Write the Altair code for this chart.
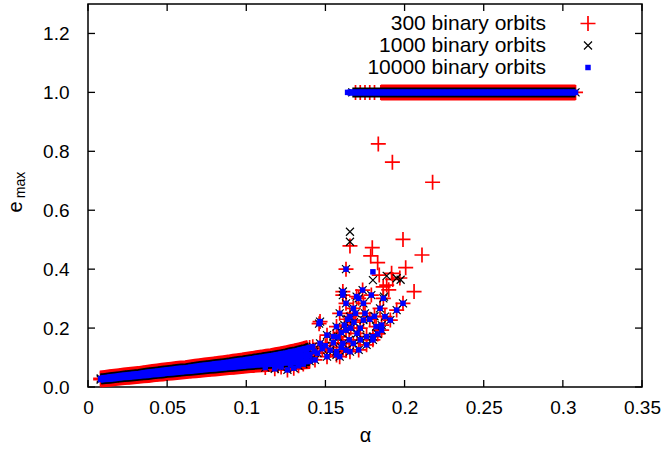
import altair as alt
import pandas as pd

# ---------------- data ----------------
x_ticks = [0, 0.05, 0.1, 0.15, 0.2, 0.25, 0.3, 0.35]
y_ticks = [0.0, 0.2, 0.4, 0.6, 0.8, 1.0, 1.2]

legend_labels = ["300 binary orbits", "1000 binary orbits", "10000 binary orbits"]

# dense low-alpha band (lower edge / upper edge / middle)
band_alpha = [0.008, 0.011, 0.014, 0.017, 0.020, 0.023, 0.026, 0.029, 0.032, 0.035,
              0.038, 0.041, 0.044, 0.047, 0.050, 0.053, 0.056, 0.059, 0.062, 0.065,
              0.068, 0.071, 0.074, 0.077, 0.080, 0.083, 0.086, 0.089, 0.092, 0.095,
              0.098, 0.101, 0.104, 0.107, 0.110, 0.113, 0.116, 0.119, 0.122, 0.125,
              0.128, 0.131, 0.134, 0.137, 0.140]
band_e_low = [0.025, 0.027, 0.028, 0.030, 0.032, 0.0335, 0.035, 0.0365, 0.038, 0.0395,
              0.041, 0.043, 0.0445, 0.046, 0.048, 0.0495, 0.051, 0.0525, 0.054, 0.0555,
              0.057, 0.0585, 0.060, 0.0615, 0.063, 0.0645, 0.066, 0.0675, 0.069, 0.0705,
              0.072, 0.0735, 0.075, 0.076, 0.077, 0.078, 0.079, 0.081, 0.082, 0.083,
              0.084, 0.085, 0.086, 0.087, 0.088]
band_e_high = [0.029, 0.031, 0.033, 0.035, 0.037, 0.039, 0.041, 0.0425, 0.044, 0.0465,
               0.049, 0.051, 0.053, 0.055, 0.057, 0.059, 0.061, 0.0625, 0.064, 0.0665,
               0.069, 0.071, 0.073, 0.075, 0.077, 0.079, 0.081, 0.083, 0.086, 0.088,
               0.090, 0.093, 0.095, 0.098, 0.100, 0.103, 0.105, 0.108, 0.111, 0.114,
               0.118, 0.121, 0.125, 0.129, 0.134]
band_mid_alpha = [0.092, 0.095, 0.098, 0.101, 0.104, 0.107, 0.110, 0.113, 0.116, 0.119,
                  0.122, 0.125, 0.128, 0.131, 0.134, 0.137, 0.140]
band_e_mid = [0.0775, 0.079, 0.081, 0.083, 0.085, 0.087, 0.0885, 0.0905, 0.092, 0.0945,
              0.0965, 0.0985, 0.101, 0.103, 0.1055, 0.108, 0.111]

# scattered cloud common to all three runs
cloud_alpha = [0.112, 0.118, 0.122, 0.126, 0.130, 0.133, 0.128, 0.120, 0.136,
               0.134, 0.136, 0.138, 0.142, 0.1434, 0.1466, 0.1466, 0.146, 0.151, 0.151,
               0.155, 0.157, 0.157, 0.159, 0.159, 0.161, 0.161, 0.161, 0.163, 0.163,
               0.163, 0.1655, 0.1655, 0.1676, 0.1676, 0.1697, 0.170, 0.171, 0.171, 0.1735,
               0.174, 0.174, 0.176, 0.176, 0.179, 0.180, 0.182, 0.1845, 0.1855, 0.1855,
               0.1866, 0.1876, 0.191, 0.195, 0.199, 0.163, 0.157, 0.172, 0.180,
               0.145, 0.148, 0.150, 0.153, 0.155, 0.158, 0.160, 0.162, 0.164, 0.166,
               0.168, 0.169, 0.172, 0.175, 0.178, 0.181, 0.183, 0.165, 0.160, 0.140, 0.143]
cloud_e = [0.066, 0.062, 0.068, 0.058, 0.064, 0.072, 0.075, 0.072, 0.078,
           0.103, 0.086, 0.120, 0.137, 0.092, 0.148, 0.222, 0.215, 0.103, 0.176,
           0.171, 0.120, 0.205, 0.103, 0.250, 0.148, 0.324, 0.312, 0.193, 0.284,
           0.400, 0.120, 0.239, 0.148, 0.267, 0.307, 0.182, 0.126, 0.301, 0.329,
           0.227, 0.284, 0.143, 0.171, 0.312, 0.160, 0.205, 0.267, 0.193, 0.210,
           0.301, 0.239, 0.227, 0.261, 0.284, 0.125, 0.109, 0.160, 0.171,
           0.115, 0.130, 0.140, 0.125, 0.150, 0.170, 0.185, 0.210, 0.230, 0.200,
           0.220, 0.250, 0.200, 0.250, 0.230, 0.240, 0.180, 0.160, 0.135, 0.105, 0.120]

# run-specific outliers
red_extra_alpha = [0.1834, 0.1923, 0.2177, 0.199, 0.211, 0.206, 0.2007, 0.1796, 0.1786,
                   0.183, 0.1918, 0.184, 0.1887, 0.1655, 0.190, 0.197, 0.1865, 0.1925]
red_extra_e = [0.825, 0.763, 0.695, 0.501, 0.448, 0.324, 0.405, 0.473, 0.445,
               0.422, 0.386, 0.380, 0.346, 0.479, 0.330, 0.370, 0.340, 0.365]
black_extra_alpha = [0.1655, 0.1655, 0.1887, 0.180, 0.195, 0.1975, 0.187]
black_extra_e = [0.527, 0.493, 0.377, 0.363, 0.369, 0.364, 0.307]
blue_extra_alpha = [0.180]
blue_extra_e = [0.391]

# e = 1 plateau
top_alpha = [0.164, 0.167, 0.170, 0.173, 0.176, 0.179, 0.182, 0.185, 0.188, 0.191,
             0.194, 0.197, 0.200, 0.203, 0.206, 0.209, 0.212, 0.215, 0.218, 0.221,
             0.224, 0.227, 0.230, 0.233, 0.236, 0.239, 0.242, 0.245, 0.248, 0.251,
             0.254, 0.257, 0.260, 0.263, 0.266, 0.269, 0.272, 0.275, 0.278, 0.281,
             0.284, 0.287, 0.290, 0.293, 0.296, 0.299, 0.302, 0.305, 0.308]
red_top_sparse = [0.169, 0.172, 0.175, 0.178, 0.181]
red_top_start = 0.185
black_top_start = 0.167
top_e = 1.0

# ---------------- tables ----------------
def table(alpha, e, row="pts"):
    return pd.DataFrame({"alpha": alpha, "e": e, "row": row})

band = pd.concat([
    table(band_alpha, band_e_low, "low"),
    table(band_alpha, band_e_high, "high"),
    table(band_mid_alpha, band_e_mid, "mid"),
])
common = pd.concat([band, table(cloud_alpha, cloud_e)])

red_top = red_top_sparse + [a for a in top_alpha if a >= red_top_start]
red_top_dense = [a for a in top_alpha if a >= red_top_start]
black_top = [a for a in top_alpha if a >= black_top_start]

red_df = pd.concat([common, table(red_extra_alpha, red_extra_e),
                    table(red_top, [top_e] * len(red_top))])
black_df = pd.concat([common, table(black_extra_alpha, black_extra_e),
                      table(black_top, [top_e] * len(black_top))])
blue_df = pd.concat([common, table(blue_extra_alpha, blue_extra_e),
                     table(top_alpha, [top_e] * len(top_alpha))])

# dense runs drawn as continuous strokes (points so tightly packed they merge)
red_runs = pd.concat([band, table(red_top_dense, [top_e] * len(red_top_dense), "top")])
black_runs = pd.concat([band, table(black_top, [top_e] * len(black_top), "top")])
blue_runs = pd.concat([band, table(top_alpha, [top_e] * len(top_alpha), "top")])

# ---------------- chart ----------------
W, H = 554, 383
FONT = "Liberation Sans"
PLUS = "M-1,0L1,0M0,-1L0,1"
CROSS = "M-1,-1L1,1M-1,1L1,-1"
RED, BLUE = "#ff0000", "#0000ff"

X = alt.X("alpha:Q", title="α",
          scale=alt.Scale(domain=[0, 0.35], nice=False, zero=False),
          axis=alt.Axis(values=x_ticks, format="~g", domain=False, ticks=False, tickSize=0,
                        grid=False, labelFlush=False, labelOverlap=False,
                        labelPadding=11, labelFontSize=19, labelFont=FONT,
                        labelColor="black", titleFont=FONT, titleFontSize=20,
                        titleFontWeight="normal", titleColor="black", titlePadding=8))
Y = alt.Y("e:Q", title=" ",
          scale=alt.Scale(domain=[0, 1.3], nice=False, zero=False),
          axis=alt.Axis(values=y_ticks, format=".1f", domain=False, ticks=False, tickSize=0,
                        grid=False, labelFlush=False, labelOverlap=False,
                        labelPadding=19, labelFontSize=19, labelFont=FONT,
                        labelColor="black", titleFontSize=1))

red_style = dict(shape=PLUS, filled=False, stroke=RED, strokeWidth=1.7, size=225, opacity=1)
black_style = dict(shape=CROSS, filled=False, stroke="black", strokeWidth=1.2, size=64, opacity=1)
blue_style = dict(shape="square", filled=True, fill=BLUE, strokeWidth=0, size=30, opacity=1)

def run_line(df, color, width):
    return alt.Chart(df).mark_line(color=color, strokeWidth=width, strokeCap="butt",
                                   opacity=1).encode(x=X, y=Y, detail="row:N", order="alpha:Q")

red_line = run_line(red_runs, RED, 16)
red = alt.Chart(red_df).mark_point(**red_style).encode(x=X, y=Y)
black_line = run_line(black_runs, "black", 10)
black = alt.Chart(black_df).mark_point(**black_style).encode(x=X, y=Y)
blue_line = run_line(blue_runs, BLUE, 6.5)
blue = alt.Chart(blue_df).mark_point(**blue_style).encode(x=X, y=Y)

xt = pd.DataFrame({"alpha": x_ticks})
yt = pd.DataFrame({"e": y_ticks})
tick_style = dict(color="black", strokeWidth=1.3)
xt_bottom = alt.Chart(xt).mark_rule(**tick_style).encode(x=X, y=alt.value(H), y2=alt.value(H - 7))
xt_top = alt.Chart(xt).mark_rule(**tick_style).encode(x=X, y=alt.value(0), y2=alt.value(7))
yt_left = alt.Chart(yt).mark_rule(**tick_style).encode(y=Y, x=alt.value(0), x2=alt.value(7))
yt_right = alt.Chart(yt).mark_rule(**tick_style).encode(y=Y, x=alt.value(W), x2=alt.value(W - 7))

# legend
leg_y = [19.5, 41.5, 63.5]
leg_layers = []
for i, (lab, st) in enumerate(zip(legend_labels, [red_style, black_style, blue_style])):
    d = pd.DataFrame({"label": [lab]})
    leg_layers.append(alt.Chart(d).mark_text(align="right", baseline="middle", fontSize=21,
                                             font=FONT, color="black")
                      .encode(text="label:N", x=alt.value(458), y=alt.value(leg_y[i])))
    leg_layers.append(alt.Chart(d).mark_point(**st)
                      .encode(x=alt.value(500), y=alt.value(leg_y[i])))

# y title e_max
ytitle = pd.DataFrame({"t": ["e"], "s": ["max"]})
ylab_e = alt.Chart(ytitle).mark_text(angle=270, align="center", baseline="middle", fontSize=20,
                                     font=FONT, color="black").encode(
    text="t:N", x=alt.value(-72), y=alt.value(203))
ylab_max = alt.Chart(ytitle).mark_text(angle=270, align="center", baseline="middle", fontSize=14,
                                       font=FONT, color="black").encode(
    text="s:N", x=alt.value(-67), y=alt.value(181))

chart = alt.layer(red_line, red, black_line, black, blue_line, blue,
                  xt_bottom, xt_top, yt_left, yt_right,
                  ylab_e, ylab_max, *leg_layers).properties(
    width=W, height=H, autosize="none",
    padding={"left": 88, "top": 4, "right": 21, "bottom": 67},
    background="white",
).configure_view(stroke="black", strokeWidth=1.5)

chart.save("out.html", embed_options={"renderer": "svg", "actions": False})
